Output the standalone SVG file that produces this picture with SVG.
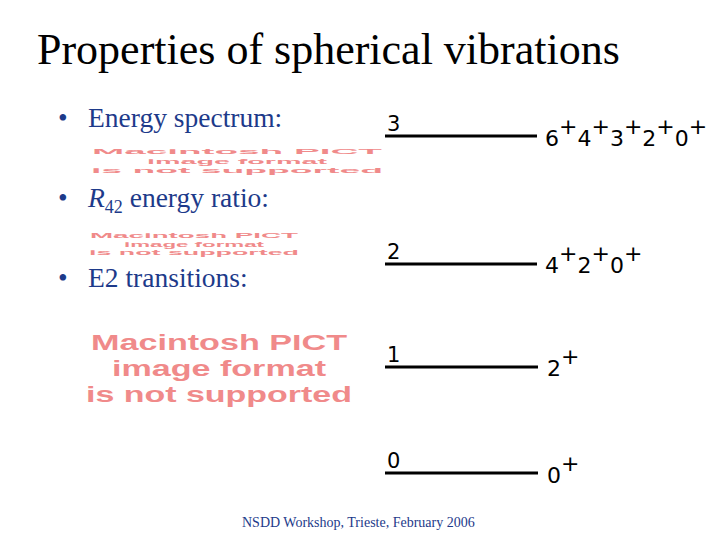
<svg xmlns="http://www.w3.org/2000/svg" width="720" height="540" viewBox="0 0 720 540">
<style>
.title{font-family:"Liberation Serif",serif;font-size:44px;fill:#000}
.bul{font-family:"Liberation Serif",serif;font-size:27.5px;fill:#1d3a8a}
.pict{font-family:"Liberation Sans",Arial,sans-serif;font-weight:bold;fill:#f08a8a;text-anchor:middle}
.num{font-family:"DejaVu Sans",sans-serif;font-size:21px;fill:#000}
.spin{font-family:"DejaVu Sans",sans-serif;font-size:22px;fill:#000}
.lvl{stroke:#000;stroke-width:3}
.foot{font-family:"Liberation Serif",serif;font-size:14px;fill:#1d3a8a}
</style>
<rect width="720" height="540" fill="#fff"/>
<text class="title" x="37" y="64">Properties of spherical vibrations</text>
<g id="bullets">
<text class="bul" x="58" y="127">•</text><text class="bul" x="88" y="127">Energy spectrum:</text>
<text class="bul" x="58" y="207">•</text><text class="bul" x="88" y="207"><tspan font-style="italic">R</tspan><tspan font-size="18" dy="6">42</tspan><tspan dy="-6"> energy ratio:</tspan></text>
<text class="bul" x="58" y="287">•</text><text class="bul" x="88" y="287">E2 transitions:</text>
</g>
<g id="pict1">
<text class="pict" x="237" y="154" font-size="8" textLength="290" lengthAdjust="spacingAndGlyphs">Macintosh PICT</text>
<text class="pict" x="237" y="163.5" font-size="8" textLength="180" lengthAdjust="spacingAndGlyphs">image format</text>
<text class="pict" x="237" y="173" font-size="8" textLength="292" lengthAdjust="spacingAndGlyphs">is not supported</text>
</g>
<g id="pict2">
<text class="pict" x="194" y="238" font-size="7.5" textLength="208" lengthAdjust="spacingAndGlyphs">Macintosh PICT</text>
<text class="pict" x="194" y="246.5" font-size="7.5" textLength="140" lengthAdjust="spacingAndGlyphs">image format</text>
<text class="pict" x="194" y="255" font-size="7.5" textLength="210" lengthAdjust="spacingAndGlyphs">is not supported</text>
</g>
<g id="pict3">
<text class="pict" x="219" y="350" font-size="22" textLength="256" lengthAdjust="spacingAndGlyphs">Macintosh PICT</text>
<text class="pict" x="219" y="376" font-size="22" textLength="214" lengthAdjust="spacingAndGlyphs">image format</text>
<text class="pict" x="219" y="402" font-size="22" textLength="266" lengthAdjust="spacingAndGlyphs">is not supported</text>
</g>
<g id="level3">
<line class="lvl" x1="385" y1="136" x2="537" y2="136"/>
<text class="num" x="387" y="131">3</text>
<text class="spin" x="545" y="146">6<tspan dy="-12">+</tspan><tspan dy="12">4</tspan><tspan dy="-12">+</tspan><tspan dy="12">3</tspan><tspan dy="-12">+</tspan><tspan dy="12">2</tspan><tspan dy="-12">+</tspan><tspan dy="12">0</tspan><tspan dy="-12">+</tspan></text>
</g>
<g id="level2">
<line class="lvl" x1="385" y1="264" x2="537" y2="264"/>
<text class="num" x="387" y="259">2</text>
<text class="spin" x="545" y="273">4<tspan dy="-12">+</tspan><tspan dy="12">2</tspan><tspan dy="-12">+</tspan><tspan dy="12">0</tspan><tspan dy="-12">+</tspan></text>
</g>
<g id="level1">
<line class="lvl" x1="385" y1="367" x2="538" y2="367" stroke-width="2.5"/>
<text class="num" x="387" y="362">1</text>
<text class="spin" x="547" y="376">2<tspan dy="-12">+</tspan></text>
</g>
<g id="level0">
<line class="lvl" x1="385" y1="473" x2="538" y2="473" stroke-width="2.5"/>
<text class="num" x="387" y="468">0</text>
<text class="spin" x="547" y="483">0<tspan dy="-12">+</tspan></text>
</g>
<text class="foot" x="242" y="527">NSDD Workshop, Trieste, February 2006</text>
</svg>
